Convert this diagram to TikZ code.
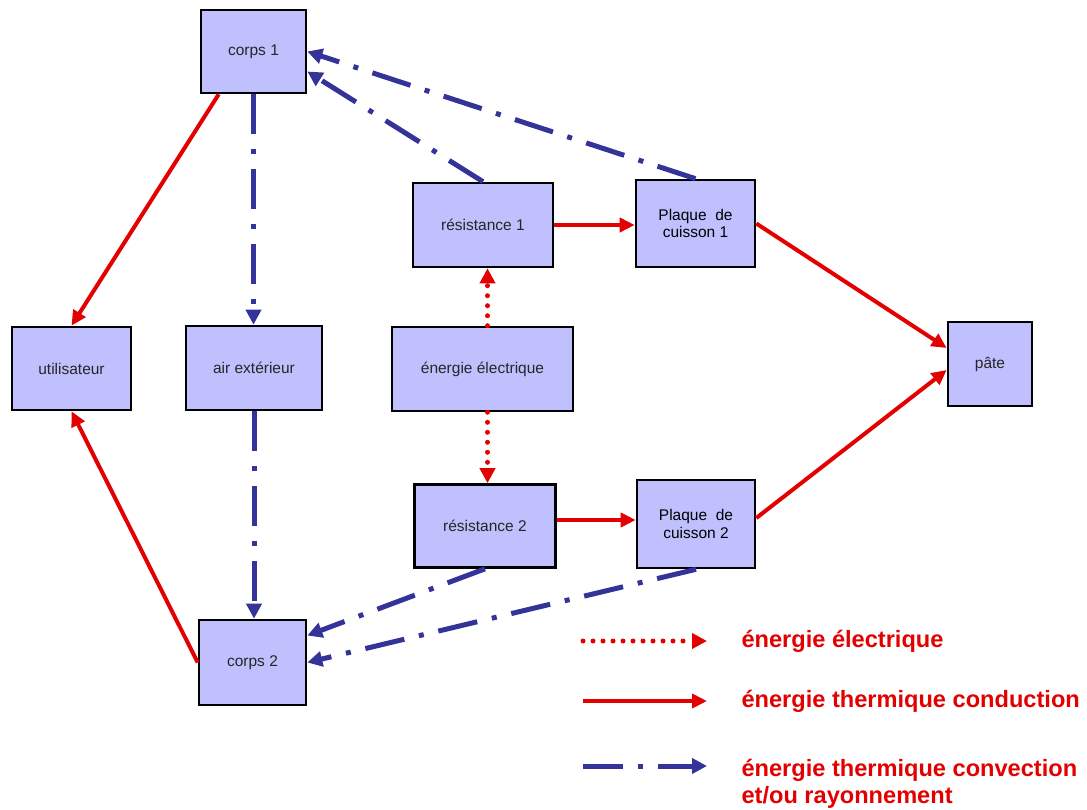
\documentclass[tikz,border=0pt]{standalone}
\usepackage{fontspec}
\setmainfont{Liberation Sans}
\usetikzlibrary{arrows.meta}
\definecolor{boxfill}{HTML}{C0C0FF}
\definecolor{convblue}{HTML}{333399}
\definecolor{condred}{HTML}{E30000}
\begin{document}
\begin{tikzpicture}[x=1pt,y=-1pt,>=Triangle,
  box/.style={draw=black,line width=2.6pt,fill=boxfill,inner sep=2pt,align=center,font=\fontsize{15.5}{17.5}\selectfont,text=black!85},
  cond/.style={draw=condred,line width=4pt,-{Triangle[length=15pt,width=14pt]}},
  conv/.style={draw=convblue,line width=5pt,dash pattern=on 40pt off 15pt on 5pt off 15pt,-{Triangle[length=15pt,width=15pt]}},
  elec/.style={draw=condred,line width=5pt,line cap=round,dash pattern=on 0pt off 10pt,-{Triangle[length=15pt,width=15pt]}},
  legtext/.style={anchor=west,text=condred,font=\bfseries\fontsize{23.6}{27}\selectfont,align=left}]
\useasboundingbox (0,0) rectangle (1087,810);
\node[box,minimum width=105pt,minimum height=83pt] (corps1) at (253.5,51.5) {corps 1};
\node[box,minimum width=119pt,minimum height=83pt] (util) at (71.5,368.5) {utilisateur};
\node[box,minimum width=136pt,minimum height=84pt] (air) at (254,368) {air extérieur};
\node[box,minimum width=181pt,minimum height=84pt] (elec) at (482.5,369) {énergie électrique};
\node[box,minimum width=140pt,minimum height=84pt] (res1) at (483,225) {résistance 1};
\node[box,minimum width=141pt,minimum height=83pt] (res2) at (485,526) {résistance 2};
\node[box,minimum width=119pt,minimum height=87pt,text=black] (plaq1) at (695.5,223.5) {Plaque~~de\\cuisson 1};
\node[box,minimum width=118pt,minimum height=88pt,text=black] (plaq2) at (696,524) {Plaque~~de\\cuisson 2};
\node[box,minimum width=84pt,minimum height=84pt] (pate) at (990,364) {pâte};
\node[box,minimum width=107pt,minimum height=85pt] (corps2) at (252.5,662.5) {corps 2};
% conduction
\draw[cond] ([xshift=19pt]corps1.south west) -- (util.north);
\draw[cond] (corps2.west) -- (util.south);
\draw[cond] (res1.east) -- (res1.east -| plaq1.west);
\draw[cond] ([yshift=6pt]res2.east) -- ([yshift=6pt]res2.east -| plaq2.west);
\draw[cond] (plaq1.east) -- ([yshift=16pt]pate.west);
\draw[cond] ([yshift=6pt]plaq2.east) -- ([yshift=-6pt]pate.west);
% convection / rayonnement
\draw[conv] (corps1.south) -- (corps1.south |- air.north);
\draw[conv] (air.south) -- (air.south |- corps2.north);
\draw[conv] (res1.north) -- ([yshift=-20pt]corps1.east);
\draw[conv] (plaq1.north) -- (corps1.east);
\draw[conv] (res2.south) -- ([yshift=27pt]corps2.east);
\draw[conv] (plaq2.south) -- (corps2.east);
% electrique
\draw[elec] ([xshift=5pt]elec.north) -- ([xshift=5pt]elec.north |- res1.south);
\draw[elec] ([xshift=5pt]elec.south) -- ([xshift=5pt]elec.south |- res2.north);
% legende
\coordinate (l1a) at (583,641);
\coordinate (l1b) at (707,641);
\coordinate (l2a) at (583,701);
\coordinate (l2b) at (707,701);
\coordinate (l3a) at (583,766);
\coordinate (l3b) at (707,766);
\draw[elec] (l1a) -- (l1b);
\draw[cond] (l2a) -- (l2b);
\draw[conv] (l3a) -- (l3b);
\node[legtext] (t1) at (738,641) {énergie électrique};
\node[legtext] (t2) at (738,701) {énergie thermique conduction};
\node[legtext] (t3) at (738,783.5) {énergie thermique convection\\et/ou rayonnement};
\end{tikzpicture}
\end{document}
